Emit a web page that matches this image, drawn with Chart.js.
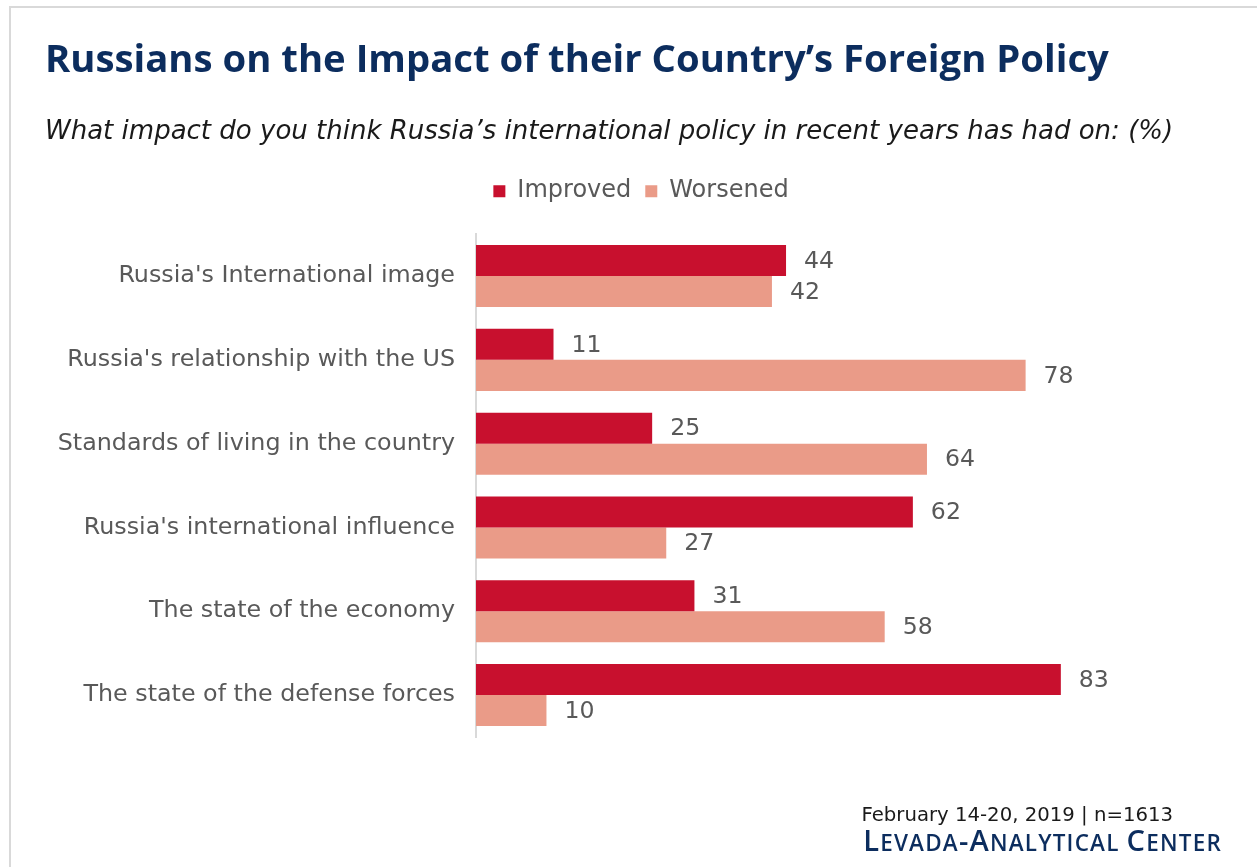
<!DOCTYPE html>
<html>
<head>
<meta charset="utf-8">
<script src="https://cdn.jsdelivr.net/npm/chart.js@4.4.1/dist/chart.umd.min.js"></script>
<style>
  html, body { margin: 0; padding: 0; background: #ffffff; }
  #wrap { width: 1257px; height: 867px; position: relative; }
</style>
</head>
<body>
<div id="wrap"><canvas id="chart" width="1257" height="867"></canvas></div>
<script>
// Survey items and shares of respondents (%)
const categories = [
  "Russia's International image",
  "Russia's relationship with the US",
  "Standards of living in the country",
  "Russia's international influence",
  "The state of the economy",
  "The state of the defense forces"
];
const improved = [44, 11, 25, 62, 31, 83];
const worsened = [42, 78, 64, 27, 58, 10];
const seriesNames = ["Improved", "Worsened"];

const titleText = "Russians on the Impact of their Country\u2019s Foreign Policy";
const subtitleText = "What impact do you think Russia\u2019s international policy in recent years has had on: (%)";
const fieldDates = "February 14-20, 2019 | n=1613";
const sourceName = "Levada-Analytical Center";

const HEAD_FONT = "'Open Sans', 'Noto Sans', sans-serif";
const BODY_FONT = "'DejaVu Sans', 'Noto Sans', sans-serif";
const NAVY = "#0c2d5e";
const GREY_TEXT = "#595959";

// Pick a font size that makes a string span the given width
const measureCtx = document.createElement('canvas').getContext('2d');
function fitSize(text, prefix, family, width) {
  measureCtx.font = prefix + " 100px " + family;
  const w = measureCtx.measureText(text).width;
  return Math.round(100 * width / w * 10) / 10;
}
const titleSize = fitSize(titleText, "bold", HEAD_FONT, 1065);
const subtitleSize = fitSize(subtitleText, "italic", BODY_FONT, 1127);
const labelSize = fitSize(categories[2], "", BODY_FONT, 397);
const legendSize = fitSize(seriesNames[0], "", BODY_FONT, 114);
const valueSize = fitSize("44", "", BODY_FONT, 30);
const dateSize = fitSize(fieldDates, "", BODY_FONT, 311);

// Frame lines, value labels and the source note
const decorations = {
  id: 'decorations',
  beforeInit(chart) {
    const legend = chart.legend;
    if (legend) {
      const fit = legend.fit;
      legend.fit = function () {
        fit.call(this);
        this.height = 69;
      };
    }
  },
  beforeDraw(chart) {
    const ctx = chart.ctx;
    ctx.save();
    ctx.fillStyle = '#ffffff';
    ctx.fillRect(0, 0, chart.width, chart.height);
    ctx.strokeStyle = '#d9d9d9';
    ctx.lineWidth = 2;
    ctx.beginPath();
    ctx.moveTo(10, 868);
    ctx.lineTo(10, 7);
    ctx.lineTo(1258, 7);
    ctx.stroke();
    ctx.restore();
  },
  afterDatasetsDraw(chart) {
    const ctx = chart.ctx;
    ctx.save();
    ctx.font = valueSize + "px " + BODY_FONT;
    ctx.fillStyle = GREY_TEXT;
    ctx.textAlign = 'left';
    ctx.textBaseline = 'middle';
    chart.data.datasets.forEach((ds, i) => {
      chart.getDatasetMeta(i).data.forEach((bar, j) => {
        ctx.fillText(String(ds.data[j]), bar.x + 18, bar.y + 1);
      });
    });
    ctx.restore();
  },
  afterDraw(chart) {
    const ctx = chart.ctx;
    ctx.save();
    ctx.textAlign = 'right';
    ctx.textBaseline = 'alphabetic';
    ctx.fillStyle = '#1a1a1a';
    ctx.font = dateSize + "px " + BODY_FONT;
    ctx.fillText(fieldDates, 1173, 821);
    // small caps line, scaled to its span
    ctx.fillStyle = NAVY;
    const parts = [];
    for (const ch of sourceName) {
      const isUpper = ch === ch.toUpperCase() && ch !== ch.toLowerCase();
      parts.push({ t: ch.toUpperCase(), big: isUpper || ch === '-' });
    }
    const spacing = 1.2;
    const fontFor = (big, k) => "600 " + (big ? 24 * k : 18.5 * k) + "px " + HEAD_FONT;
    let w = 0;
    parts.forEach(p => { ctx.font = fontFor(p.big, 1); w += ctx.measureText(p.t).width + spacing; });
    const k = (359 - spacing * parts.length) / (w - spacing * parts.length);
    w = 0;
    parts.forEach(p => { ctx.font = fontFor(p.big, k); w += ctx.measureText(p.t).width + spacing; });
    let x = 1222 - w;
    ctx.textAlign = 'left';
    parts.forEach(p => { ctx.font = fontFor(p.big, k); ctx.fillText(p.t, x, 851); x += ctx.measureText(p.t).width + spacing; });
    ctx.restore();
  }
};

new Chart(document.getElementById('chart'), {
  type: 'bar',
  data: {
    labels: categories,
    datasets: [
      { label: seriesNames[0], data: improved, backgroundColor: '#c8102e',
        categoryPercentage: 0.74, barPercentage: 1.0 },
      { label: seriesNames[1], data: worsened, backgroundColor: '#ea9b88',
        categoryPercentage: 0.74, barPercentage: 1.0 }
    ]
  },
  options: {
    indexAxis: 'y',
    responsive: false,
    animation: false,
    devicePixelRatio: 1,
    layout: { padding: { left: 45, right: 20, top: 0, bottom: 130 } },
    scales: {
      x: {
        display: false,
        min: 0,
        max: 108,
        grid: { display: false }
      },
      y: {
        afterFit(scale) { scale.width = 431; },
        grid: { display: false, drawTicks: false },
        border: { display: true, color: '#d9d9d9', width: 2 },
        ticks: { color: GREY_TEXT, font: { family: BODY_FONT, size: labelSize }, padding: 21 }
      }
    },
    plugins: {
      title: {
        display: true,
        text: titleText,
        align: 'start',
        color: NAVY,
        font: { family: HEAD_FONT, size: titleSize, weight: 'bold' },
        padding: { top: 38, bottom: 10 }
      },
      subtitle: {
        display: true,
        text: subtitleText,
        align: 'start',
        color: '#1a1a1a',
        font: { family: BODY_FONT, size: subtitleSize, style: 'italic' },
        padding: { top: 23, bottom: 17 }
      },
      legend: {
        display: true,
        position: 'top',
        labels: {
          color: GREY_TEXT,
          font: { family: BODY_FONT, size: legendSize },
          boxWidth: 12,
          boxHeight: 12,
          padding: 14
        }
      },
      tooltip: { enabled: false }
    }
  },
  plugins: [decorations]
});
</script>
</body>
</html>
